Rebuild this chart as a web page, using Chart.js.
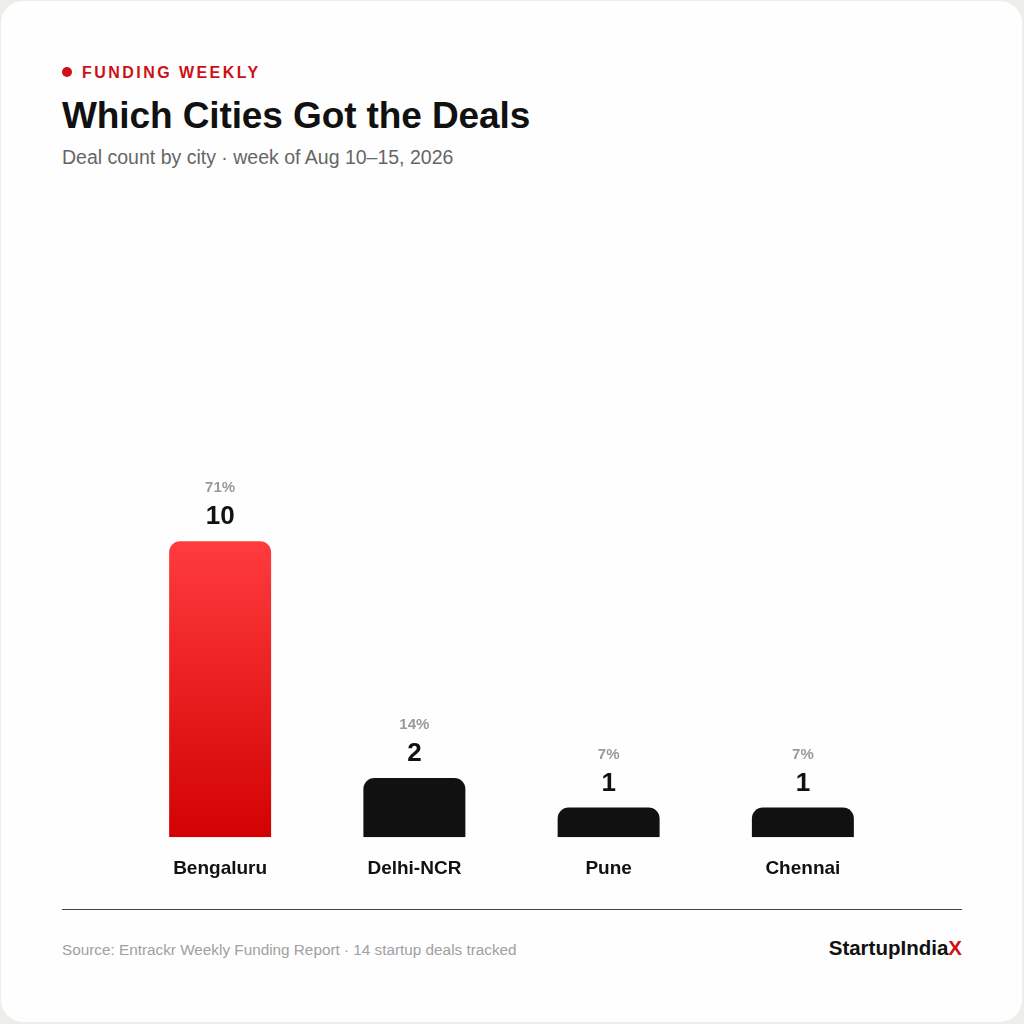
<!DOCTYPE html>
<html>
<head>
<meta charset="utf-8">
<title>Which Cities Got the Deals</title>
<script src="https://cdn.jsdelivr.net/npm/chart.js@4/dist/chart.umd.min.js"></script>
<style>
  html, body { margin: 0; padding: 0; }
  body {
    width: 1024px; height: 1024px; background: #eeede9;
    font-family: "Liberation Sans", Arial, sans-serif; position: relative; overflow: hidden;
  }
  .card {
    position: absolute; left: 1px; top: 1px; width: 1021px; height: 1021px;
    background: #fefefe; border-radius: 22px;
  }
  .eyebrow {
    position: absolute; left: 62px; top: 65px; font-size: 16px; line-height: 16px;
    font-weight: bold; color: #cc1018; letter-spacing: 2.45px;
  }
  .eyebrow .dot {
    display: inline-block; width: 10px; height: 10px; border-radius: 50%;
    background: #d0101a; margin-right: 10px; vertical-align: 1px;
  }
  .title {
    position: absolute; left: 62px; top: 97px; font-size: 37px; line-height: 37px;
    font-weight: bold; color: #111; letter-spacing: -0.1px;
  }
  .subtitle {
    position: absolute; left: 62px; top: 148px; font-size: 19.5px; line-height: 19.5px; color: #666;
  }
  .chart-wrap { position: absolute; left: 62px; top: 210px; width: 900px; height: 700px; }
  .rule { position: absolute; left: 62px; top: 909px; width: 900px; height: 1px; background: #444; }
  .source {
    position: absolute; left: 62px; top: 942px; font-size: 15.3px; line-height: 15.3px; color: #a0a0a0;
  }
  .brand {
    position: absolute; right: 62px; top: 938px; font-size: 20.5px; line-height: 20.5px;
    font-weight: bold; color: #111;
  }
  .brand span { color: #d0101a; }
</style>
</head>
<body>
<div class="card">
</div>
<div class="eyebrow"><span class="dot"></span>FUNDING WEEKLY</div>
<div class="title">Which Cities Got the Deals</div>
<div class="subtitle">Deal count by city · week of Aug 10–15, 2026</div>
<div class="chart-wrap"><canvas id="myChart"></canvas></div>
<div class="rule"></div>
<div class="source">Source: Entrackr Weekly Funding Report · 14 startup deals tracked</div>
<div class="brand">StartupIndia<span>X</span></div>

<script>
const cities = ["Bengaluru", "Delhi-NCR", "Pune", "Chennai"];
const dealCounts = [10, 2, 1, 1];
const highlightIndex = 0;

const totalDeals = dealCounts.reduce((a, b) => a + b, 0);

// red gradient for the top city, black for the rest
const barColor = (ctx) => {
  const chart = ctx.chart;
  if (ctx.dataIndex !== highlightIndex) return "#111111";
  if (!chart.chartArea) return "#e51a1f";
  const y = chart.scales.y;
  const top = y.getPixelForValue(dealCounts[ctx.dataIndex]);
  const bottom = y.getPixelForValue(0);
  const g = chart.ctx.createLinearGradient(0, top, 0, bottom);
  g.addColorStop(0, "#ff3b3e");
  g.addColorStop(1, "#d20202");
  return g;
};

const barLabels = {
  id: "barLabels",
  afterDatasetsDraw(chart) {
    const ctx = chart.ctx;
    const meta = chart.getDatasetMeta(0);
    ctx.save();
    ctx.textAlign = "center";
    ctx.textBaseline = "alphabetic";
    meta.data.forEach((bar, i) => {
      const v = dealCounts[i];
      const pct = Math.round((v / totalDeals) * 100) + "%";
      ctx.fillStyle = "#111";
      ctx.font = "bold 26px 'Liberation Sans', Arial, sans-serif";
      ctx.fillText(String(v), bar.x, bar.y - 17);
      ctx.fillStyle = "#9a9a9a";
      ctx.font = "bold 15px 'Liberation Sans', Arial, sans-serif";
      ctx.fillText(pct, bar.x, bar.y - 49);
    });
    ctx.restore();
  },
};

new Chart(document.getElementById("myChart"), {
  type: "bar",
  data: {
    labels: cities,
    datasets: [
      {
        label: "Deals",
        data: dealCounts,
        backgroundColor: barColor,
        borderRadius: { topLeft: 11, topRight: 11 },
        borderSkipped: "bottom",
        barPercentage: 0.525,
        categoryPercentage: 1,
      },
    ],
  },
  options: {
    responsive: true,
    maintainAspectRatio: false,
    animation: false,
    layout: { padding: { left: 61, right: 62, top: 0, bottom: 10 } },
    plugins: { legend: { display: false }, tooltip: { enabled: false } },
    scales: {
      x: {
        grid: { display: false, drawTicks: false },
        border: { display: false },
        ticks: {
          color: "#111",
          padding: 20,
          font: { family: "'Liberation Sans', Arial, sans-serif", size: 19, weight: "bold" },
        },
      },
      y: { display: false, min: 0, max: 21.2 },
    },
  },
  plugins: [barLabels],
});
</script>
</body>
</html>
